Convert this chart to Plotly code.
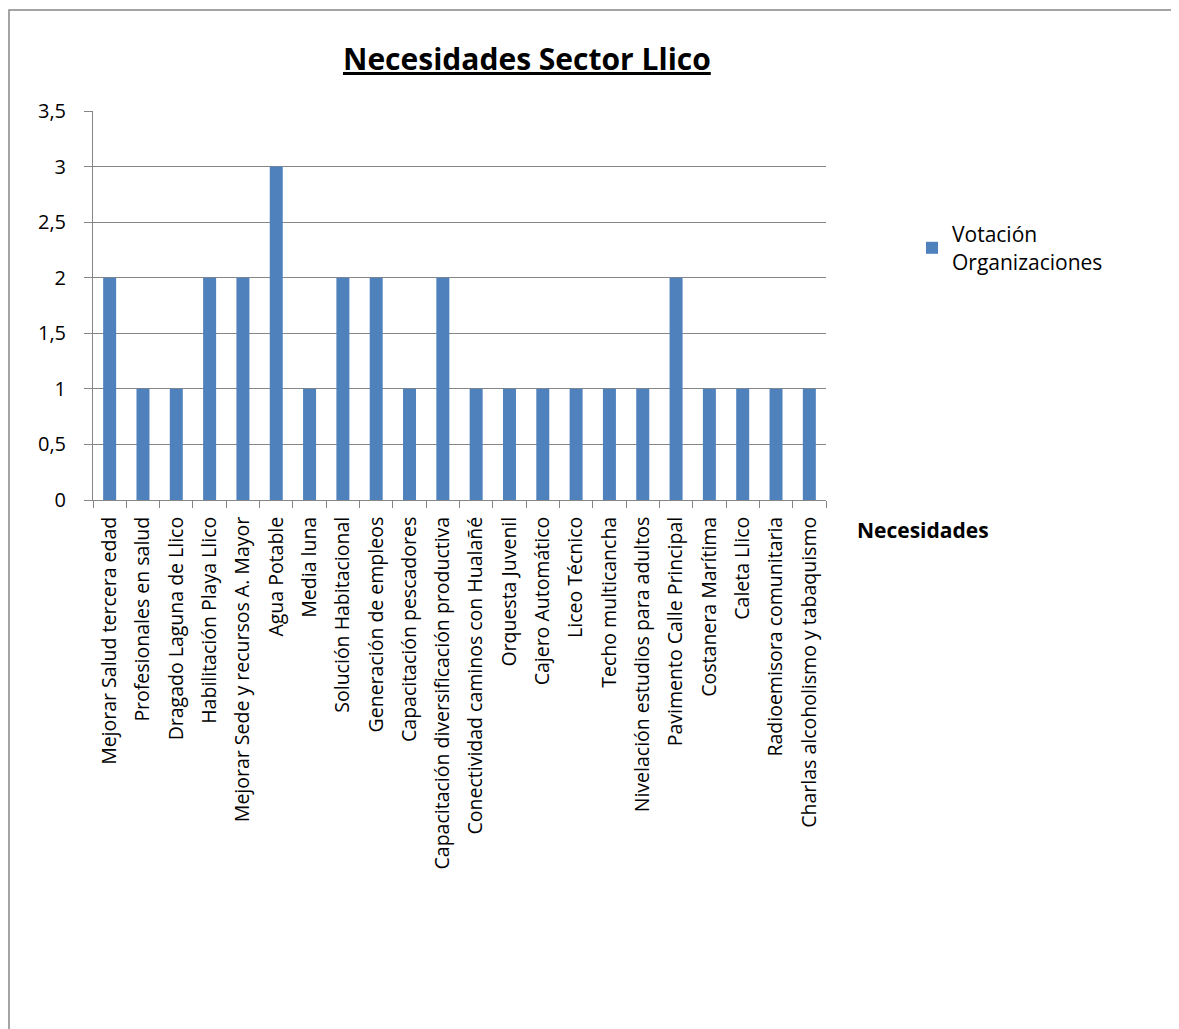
import plotly.graph_objects as go

categories = [
    "Mejorar Salud tercera edad", "Profesionales en salud", "Dragado Laguna de Llico",
    "Habilitación Playa Llico", "Mejorar Sede y recursos A. Mayor", "Agua Potable",
    "Media luna", "Solución Habitacional", "Generación de empleos",
    "Capacitación pescadores", "Capacitación diversificación productiva",
    "Conectividad caminos con Hualañé", "Orquesta Juvenil", "Cajero Automático",
    "Liceo Técnico", "Techo multicancha", "Nivelación estudios para adultos",
    "Pavimento Calle Principal", "Costanera Marítima", "Caleta Llico",
    "Radioemisora comunitaria", "Charlas alcoholismo y tabaquismo",
]
votes = [2, 1, 1, 2, 2, 3, 1, 2, 2, 1, 2, 1, 1, 1, 1, 1, 1, 2, 1, 1, 1, 1]
y_ticks = [0, 0.5, 1, 1.5, 2, 2.5, 3, 3.5]

FONT = "Open Sans"
OFF = 8  # browser default body margin
W, H = 1179 - OFF, 1029 - OFF
L, R, T, B = 93 - OFF, 826 - OFF, 111 - OFF, 500 - OFF
pw, ph = R - L, B - T

def px_x(x):
    return (x - OFF - L) / pw

def px_y(y):
    return (B - (y - OFF)) / ph

fig = go.Figure()
fig.add_trace(go.Bar(
    x=categories, y=votes, name="Votación<br>Organizaciones",
    marker=dict(color="#4F81BD", line=dict(width=0)),
))

fig.update_layout(
    width=W, height=H,
    margin=dict(l=L, r=W - R, t=T, b=H - B, autoexpand=False),
    paper_bgcolor="white", plot_bgcolor="white",
    separators=",.",
    bargap=0.61,
    font=dict(family=FONT, color="#000000", size=16),
    showlegend=True,
    legend=dict(x=px_x(912), y=px_y(214), xanchor="left", yanchor="top",
                font=dict(size=21, family=FONT), bgcolor="rgba(0,0,0,0)",
                itemwidth=30),
    xaxis=dict(
        type="category", tickangle=-90, tickfont=dict(size=19.5, family=FONT),
        showline=True, linecolor="#868686", linewidth=1,
        ticks="outside", ticklen=7, tickcolor="#868686", tickson="boundaries",
        showgrid=False, ticklabelstandoff=8,
    ),
    yaxis=dict(
        range=[0, 3.5], tickvals=y_ticks, tickfont=dict(size=20, family=FONT),
        showline=True, linecolor="#868686", linewidth=1,
        ticks="outside", ticklen=8, tickcolor="#868686",
        showgrid=True, gridcolor="#868686", gridwidth=1, zeroline=False,
        ticklabelstandoff=14,
    ),
    annotations=[
        dict(text="<b><u>Necesidades Sector Llico</u></b>", xref="paper", yref="paper",
             x=px_x(527), y=px_y(58), xanchor="center", yanchor="middle",
             showarrow=False, font=dict(size=30, family=FONT)),
        dict(text="<b>Necesidades</b>", xref="paper", yref="paper",
             x=px_x(855), y=px_y(530), xanchor="left", yanchor="middle",
             showarrow=False, font=dict(size=21, family=FONT)),
    ],
    shapes=[
        dict(type="rect", xref="paper", yref="paper",
             x0=px_x(OFF + 1), x1=px_x(1250), y0=px_y(10), y1=px_y(1200),
             line=dict(color="#868686", width=1.5), fillcolor="rgba(0,0,0,0)", layer="below"),
    ],
)

fig.write_html("out.html")
